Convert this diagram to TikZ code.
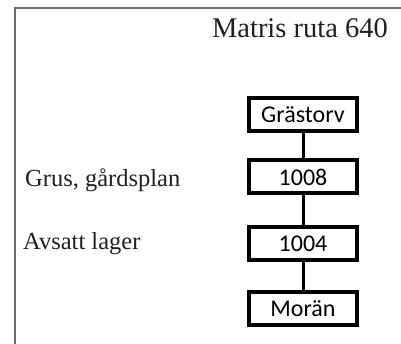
\documentclass[tikz,border=0pt]{standalone}
\usepackage{fontspec}
\setmainfont{Liberation Serif}
\newfontfamily\boxfont{Carlito}
\usetikzlibrary{positioning}
\definecolor{framegray}{RGB}{110,110,110}
\definecolor{inkgray}{RGB}{35,31,32}

\begin{document}
\begin{tikzpicture}
    [
      x = 1pt, y = -1pt,
      layerbox/.style = {draw, line width = 4pt, minimum width = 108pt,
        minimum height = 33pt, inner sep = 0pt,
        font = \boxfont\fontsize{24}{28}\selectfont},
      label text/.style = {inner sep = 0pt, text = inkgray,
        font = \fontsize{24.5}{30}\selectfont},
      link/.style = {line width = 3pt},
    ]

    \useasboundingbox (0,0) rectangle (401,344);
    \draw[framegray, line width = 1.5pt] (15,344) -- (15,8) -- (401,8);

    \node[label text, anchor=base east, font=\fontsize{28.5}{34}\selectfont] (title) at (388,38) {Matris ruta 640};
    \node[label text, anchor=base west] (grus) at (25,187) {Grus, gårdsplan};
    \node[label text, anchor=base west] (avsatt) at (23,250) {Avsatt lager};

    \node[layerbox] (grastorv) at (303,114.5) {Grästorv};
    \node[layerbox] (u1008) at (303,177) {1008};
    \node[layerbox] (u1004) at (303,243.5) {1004};
    \node[layerbox] (moran) at (303,308.5) {Morän};

    \draw[link] (grastorv) -- (u1008);
    \draw[link] (u1008) -- (u1004);
    \draw[link] (u1004) -- (moran);

  \end{tikzpicture}
\end{document}
